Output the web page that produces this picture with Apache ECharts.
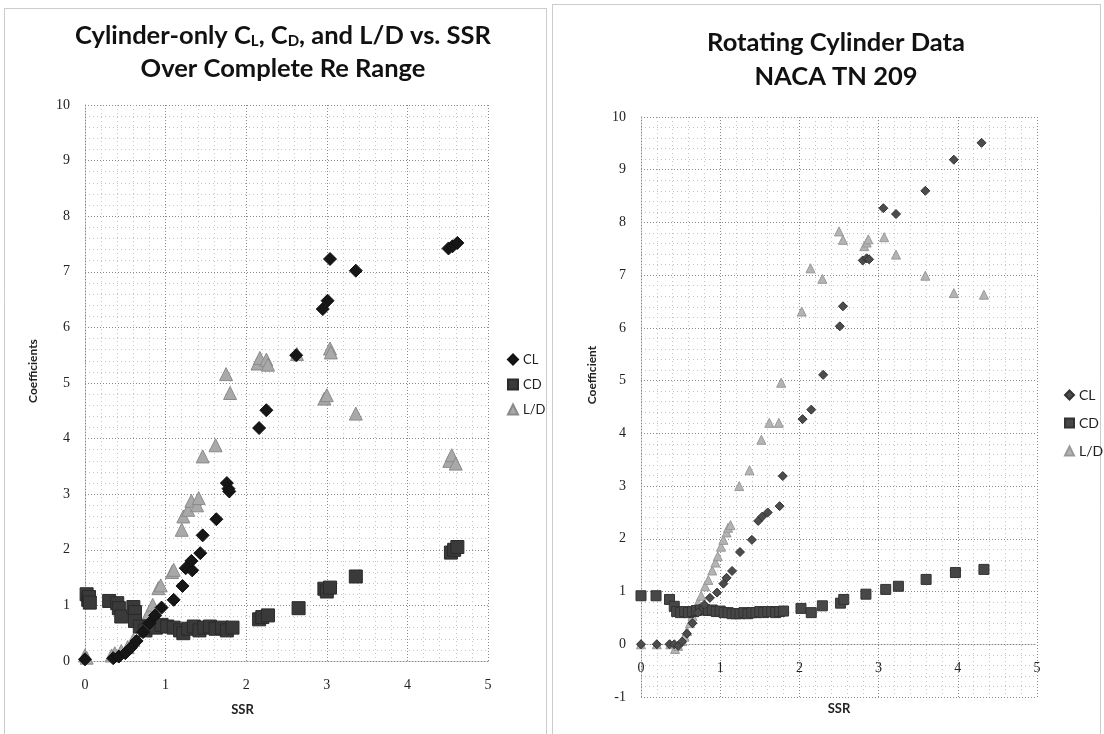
<!DOCTYPE html>
<html>
<head>
<meta charset="utf-8">
<script src="https://cdn.jsdelivr.net/npm/echarts@6/dist/echarts.min.js"></script>
<style>
html,body{margin:0;padding:0;background:#fff;}
#chart{width:1104px;height:734px;}
</style>
</head>
<body>
<div id="chart"></div>
<script>
// ---------- Data (SSR, coefficient) ----------
// Left chart: Cylinder-only over complete Re range
var leftCL = [
  [0.0,0.03],[0.35,0.05],[0.42,0.08],[0.5,0.14],[0.57,0.24],[0.64,0.36],[0.72,0.52],[0.8,0.68],
  [0.87,0.82],[0.95,0.96],[1.1,1.1],[1.21,1.35],[1.25,1.67],[1.33,1.63],[1.32,1.8],[1.43,1.94],
  [1.46,2.26],[1.63,2.55],[1.76,3.2],[1.78,3.1],[1.79,3.05],[2.16,4.19],[2.25,4.51],[2.62,5.5],
  [2.95,6.33],[3.01,6.48],[3.04,7.23],[3.36,7.02],[4.51,7.42],[4.56,7.46],[4.62,7.52]
];
var leftCD = [
  [0.02,1.2],[0.04,1.1],[0.05,1.15],[0.06,1.05],[0.3,1.08],[0.4,1.04],[0.42,0.95],[0.45,0.8],
  [0.6,0.97],[0.62,0.88],[0.62,0.72],[0.68,0.62],[0.75,0.55],[0.8,0.62],[0.88,0.6],[0.95,0.65],
  [1.02,0.62],[1.1,0.6],[1.18,0.55],[1.22,0.5],[1.28,0.58],[1.35,0.62],[1.42,0.55],[1.48,0.6],
  [1.55,0.62],[1.62,0.58],[1.7,0.6],[1.76,0.55],[1.83,0.6],[2.16,0.75],[2.2,0.79],[2.27,0.82],
  [2.65,0.95],[2.97,1.3],[3.0,1.25],[3.04,1.32],[3.36,1.52],[4.54,1.95],[4.58,2.0],[4.62,2.05]
];
var leftLD = [
  [0.0,0.1],[0.02,0.06],[0.33,0.1],[0.37,0.14],[0.45,0.18],[0.53,0.25],[0.6,0.38],[0.7,0.62],
  [0.75,0.74],[0.79,0.86],[0.84,1.01],[0.91,1.31],[0.94,1.36],[1.08,1.6],[1.1,1.64],[1.2,2.36],
  [1.22,2.6],[1.28,2.72],[1.32,2.88],[1.39,2.8],[1.41,2.93],[1.46,3.68],[1.62,3.88],[1.75,5.16],
  [1.8,4.82],[2.14,5.35],[2.17,5.45],[2.25,5.42],[2.27,5.33],[2.63,5.52],[2.97,4.72],[3.0,4.78],
  [3.04,5.62],[3.05,5.55],[3.36,4.45],[4.52,3.6],[4.55,3.7],[4.6,3.55]
];
// Right chart: NACA TN 209 rotating cylinder data
var rightCL = [
  [0.0,0.0],[0.2,0.0],[0.36,0.0],[0.42,0.0],[0.47,-0.03],[0.52,0.05],[0.58,0.2],[0.65,0.4],
  [0.72,0.6],[0.8,0.75],[0.87,0.88],[0.96,0.98],[1.04,1.15],[1.08,1.26],[1.15,1.39],[1.25,1.75],
  [1.4,1.98],[1.48,2.34],[1.53,2.42],[1.6,2.5],[1.75,2.62],[1.79,3.19],[2.04,4.27],[2.15,4.45],
  [2.3,5.11],[2.51,6.03],[2.55,6.41],[2.8,7.28],[2.85,7.32],[2.88,7.3],[3.06,8.27],[3.22,8.16],
  [3.59,8.6],[3.95,9.19],[4.3,9.51]
];
var rightCD = [
  [0.0,0.92],[0.19,0.92],[0.36,0.85],[0.42,0.72],[0.45,0.62],[0.5,0.6],[0.55,0.62],[0.6,0.6],
  [0.65,0.62],[0.7,0.64],[0.75,0.65],[0.8,0.66],[0.85,0.64],[0.9,0.65],[0.95,0.62],[1.0,0.63],
  [1.05,0.6],[1.1,0.6],[1.15,0.58],[1.2,0.58],[1.25,0.58],[1.3,0.6],[1.35,0.58],[1.4,0.6],
  [1.45,0.6],[1.5,0.62],[1.55,0.6],[1.6,0.62],[1.65,0.62],[1.7,0.6],[1.75,0.62],[1.8,0.63],
  [2.02,0.68],[2.15,0.6],[2.29,0.73],[2.52,0.78],[2.56,0.85],[2.84,0.95],[3.09,1.04],[3.25,1.1],
  [3.6,1.23],[3.97,1.36],[4.33,1.42]
];
var rightLD = [
  [0.0,0.0],[0.2,0.0],[0.37,0.0],[0.43,-0.09],[0.47,-0.03],[0.52,0.06],[0.55,0.15],[0.58,0.25],
  [0.62,0.4],[0.65,0.54],[0.69,0.66],[0.72,0.79],[0.76,0.92],[0.81,1.1],[0.85,1.22],[0.9,1.4],
  [0.94,1.55],[0.97,1.67],[1.01,1.85],[1.04,1.98],[1.08,2.12],[1.1,2.21],[1.13,2.26],[1.24,3.0],
  [1.37,3.3],[1.52,3.88],[1.62,4.2],[1.74,4.2],[1.77,4.96],[2.03,6.31],[2.14,7.13],[2.29,6.93],
  [2.5,7.83],[2.55,7.67],[2.82,7.55],[2.85,7.62],[2.87,7.68],[3.07,7.72],[3.22,7.39],[3.59,6.99],
  [3.95,6.66],[4.33,6.63]
];
var seriesNames = ['CL','CD','L/D'];
var xTicks = [0,1,2,3,4,5];

// ---------- Chart ----------
var chart = echarts.init(document.getElementById('chart'), null, {renderer:'canvas'});
var sans = 'Lato, "Open Sans", sans-serif';
var serif = '"Liberation Serif", "DejaVu Serif", serif';

function xAxisCfg(grid, gap, pad, offset){
  return {
    type:'value', gridIndex:grid, min:0, max:5, interval:1, offset:offset,
    name:'SSR', nameLocation:'middle', nameGap:gap,
    nameTextStyle:{fontFamily:sans, fontWeight:'bold', fontSize:13, color:'#222', padding:pad},
    axisLine:{show:true, onZero:false, lineStyle:{color:'#888', type:[1,2], width:1}},
    axisTick:{show:false},
    axisLabel:{margin:17, fontFamily:serif, fontSize:14, color:'#222',
      formatter:function(v){return xTicks.indexOf(v)>=0 ? String(v) : '';}},
    splitLine:{show:true, lineStyle:{color:'#8a8a8a', type:[1,2], width:1}},
    minorTick:{show:false, splitNumber:5},
    minorSplitLine:{show:true, lineStyle:{color:'#c4c4c4', type:[1,3], width:1}}
  };
}
function yAxisCfg(grid, min, name, gap, pad){
  return {
    type:'value', gridIndex:grid, min:min, max:10, interval:1,
    name:name, nameLocation:'middle', nameGap:gap,
    nameTextStyle:{fontFamily:sans, fontWeight:'bold', fontSize:12, color:'#222', padding:pad},
    axisLine:{show:true, lineStyle:{color:'#888', type:[1,2], width:1}},
    axisTick:{show:false},
    axisLabel:{margin:15, fontFamily:serif, fontSize:14, color:'#222'},
    splitLine:{show:true, lineStyle:{color:'#8a8a8a', type:[1,2], width:1}},
    minorTick:{show:false, splitNumber:5},
    minorSplitLine:{show:true, lineStyle:{color:'#c4c4c4', type:[1,3], width:1}}
  };
}
function sc(name, data, xi, symbol, size, color, border){
  return {
    type:'scatter', name:name, xAxisIndex:xi, yAxisIndex:xi, data:data,
    symbol:symbol, symbolSize:size,
    itemStyle:{color:color, opacity:1, borderColor:border, borderWidth:1},
    emphasis:{disabled:true}, animation:false
  };
}

var titleStyleL = {
  rich:{
    a:{fontFamily:sans, fontWeight:'bold', fontSize:25.5, color:'#111', lineHeight:33, verticalAlign:'bottom'},
    s:{fontFamily:sans, fontWeight:'bold', fontSize:15, color:'#111', lineHeight:17, verticalAlign:'bottom', padding:[16,0,0,0]}
  }
};

var option = {
  backgroundColor:'#ffffff',
  animation:false,
  title:[
    {
      text:'{a|Cylinder-only C}{s|L}{a|, C}{s|D}{a|, and L/D vs. SSR}\n{a|Over Complete Re Range}',
      left:283, top:16, textAlign:'center', padding:0,
      textStyle:titleStyleL
    },
    {
      text:'Rotating Cylinder Data\nNACA TN 209',
      left:836, top:26, textAlign:'center', padding:0,
      textStyle:{fontFamily:sans, fontWeight:'bold', fontSize:25.5, color:'#111', lineHeight:34}
    }
  ],
  legend:[
    {
      left:507, top:353, orient:'vertical', padding:0, itemGap:12, itemWidth:10, itemHeight:10,
      textStyle:{fontFamily:sans, fontSize:13, color:'#222'},
      data:[{name:'CL', icon:'diamond'},{name:'CD', icon:'rect'},{name:'L/D', icon:'triangle'}]
    },
    {
      left:1064, top:388, orient:'vertical', padding:0, itemGap:14, itemWidth:9, itemHeight:9,
      textStyle:{fontFamily:sans, fontSize:14, color:'#222'},
      formatter:function(n){return n.replace(' (NACA)','');},
      data:[{name:'CL (NACA)', icon:'diamond'},{name:'CD (NACA)', icon:'rect'},{name:'L/D (NACA)', icon:'triangle'}]
    }
  ],
  grid:[
    {left:85, top:105, width:403, height:556, containLabel:false, outerBoundsMode:'none'},
    {left:641, top:117, width:396, height:580, containLabel:false, outerBoundsMode:'none'}
  ],
  xAxis:[ xAxisCfg(0, 42, [0,88,0,0], 0), xAxisCfg(1, 58, [0,0,0,0], -53) ],
  yAxis:[ yAxisCfg(0, 0, 'Coefficients', 46, [0,0,0,24]), yAxisCfg(1, -1, 'Coefficient', 43, [0,0,0,64]) ],
  graphic:[
    {type:'rect', shape:{x:4.5, y:8.5, width:542, height:730}, style:{fill:'none', stroke:'#999', lineWidth:1, lineDash:[1,1]}, silent:true},
    {type:'rect', shape:{x:552.5, y:4.5, width:548, height:734}, style:{fill:'none', stroke:'#999', lineWidth:1, lineDash:[1,1]}, silent:true}
  ],
  series:[
    sc(seriesNames[2], leftLD, 0, 'triangle', 13, '#a9a9a9', '#8a8a8a'),
    sc(seriesNames[1], leftCD, 0, 'rect', 13, '#3a3a3a', '#2a2a2a'),
    sc(seriesNames[0], leftCL, 0, 'diamond', 13, '#161616', '#111'),
    sc('L/D (NACA)', rightLD, 1, 'triangle', 9, '#b4b4b4', '#999'),
    sc('CD (NACA)', rightCD, 1, 'rect', 10, '#474747', '#333'),
    sc('CL (NACA)', rightCL, 1, 'diamond', 9, '#4c4c4c', '#333')
  ]
};
chart.setOption(option);
</script>
</body>
</html>
